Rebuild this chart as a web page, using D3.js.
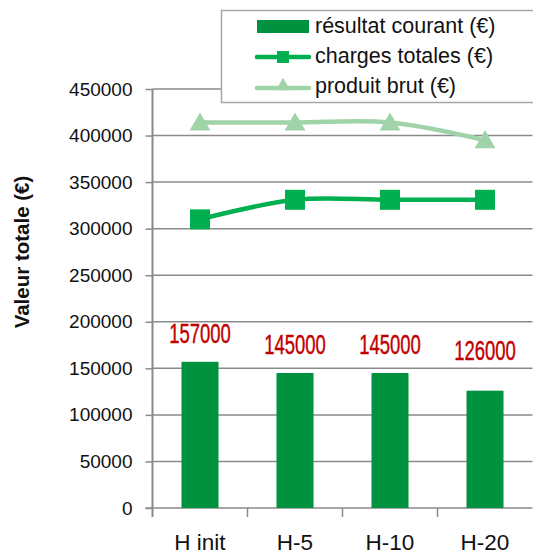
<!DOCTYPE html>
<html><head><meta charset="utf-8">
<script src="https://cdn.jsdelivr.net/npm/d3@7"></script>
<style>body{margin:0;background:#fff}svg{display:block}</style>
</head><body>
<script>
const categories = ["H init", "H-5", "H-10", "H-20"];
const resultat = [157000, 145000, 145000, 126000];
const charges = [310000, 331000, 331000, 331000];
const produit = [414000, 414000, 414000, 395000];
const yTicks = [0, 50000, 100000, 150000, 200000, 250000, 300000, 350000, 400000, 450000];
const seriesNames = ["résultat courant (€)", "charges totales (€)", "produit brut (€)"];

(function () {
const W = 533, H = 555;
const svg = d3.select("body").append("svg").attr("width", W).attr("height", H);
const font = "'Liberation Sans', Arial, sans-serif";
const pL = 152.5, pR = 532.5, pT = 89, pB = 508;

const x = d3.scaleBand().domain(categories).range([pL, pR]);
const y = d3.scaleLinear().domain([0, 450000]).range([pB, pT]);

// gridlines
svg.append("g").selectAll("line").data(yTicks.filter(d => d > 0)).join("line")
  .attr("x1", pL).attr("x2", pR).attr("y1", d => y(d)).attr("y2", d => y(d))
  .attr("stroke", "#8a8a8a").attr("stroke-width", 1.5);

// y axis
const ya = svg.append("g").attr("transform", `translate(${pL},0)`)
  .call(d3.axisLeft(y).tickValues(yTicks).tickFormat(d3.format("d")).tickSize(7).tickPadding(13));
ya.select(".domain").attr("stroke", "#8a8a8a").attr("stroke-width", 2).attr("d", `M0,${pT}V${pB + 9}`);
ya.selectAll(".tick line").attr("stroke", "#8a8a8a").attr("stroke-width", 1.5);
ya.selectAll("text").attr("font-family", font).attr("font-size", 19).attr("fill", "#111");

// x axis
const xa = svg.append("g").attr("transform", `translate(0,${pB})`);
xa.append("line").attr("x1", pL - 7).attr("x2", pR).attr("y1", 0).attr("y2", 0)
  .attr("stroke", "#8a8a8a").attr("stroke-width", 1.5);
xa.selectAll("line.tk").data(categories.slice(1)).join("line").attr("class", "tk")
  .attr("x1", d => x(d)).attr("x2", d => x(d)).attr("y1", 0).attr("y2", 9)
  .attr("stroke", "#8a8a8a").attr("stroke-width", 1.5);
xa.selectAll("text").data(categories).join("text")
  .attr("x", d => x(d) + x.bandwidth() / 2).attr("y", 42)
  .attr("text-anchor", "middle").attr("font-family", font).attr("font-size", 22.5).attr("fill", "#111")
  .text(d => d);

// y title
svg.append("text").attr("transform", `translate(29,252) rotate(-90)`)
  .attr("text-anchor", "middle").attr("font-family", font).attr("font-weight", "bold")
  .attr("font-size", 20.5).attr("fill", "#111").text("Valeur totale (€)");

// bars
const bw = 37;
svg.append("g").selectAll("rect").data(resultat).join("rect")
  .attr("x", (d, i) => x(categories[i]) + x.bandwidth() / 2 - bw / 2)
  .attr("y", d => y(d)).attr("width", bw).attr("height", d => pB - y(d))
  .attr("fill", "#00923f");

// labels
svg.append("g").selectAll("text").data(resultat).join("text")
  .attr("transform", (d, i) => `translate(${x(categories[i]) + x.bandwidth() / 2},${y(d) - (d < 140000 ? 31 : 19)}) scale(0.66,1)`)
  .attr("text-anchor", "middle").attr("font-family", font).attr("font-size", 28)
  .attr("fill", "#c00000").attr("stroke", "#c00000").attr("stroke-width", 0.4).text(d => d);

// lines
const cx = (d, i) => x(categories[i]) + x.bandwidth() / 2;
const line = d3.line().x((d, i) => cx(d, i)).y(d => y(d)).curve(d3.curveCatmullRom.alpha(0.5));
svg.append("path").datum(produit).attr("d", line).attr("fill", "none")
  .attr("stroke", "#a1d3a9").attr("stroke-width", 4.5);
svg.append("path").datum(charges).attr("d", line).attr("fill", "none")
  .attr("stroke", "#00b050").attr("stroke-width", 4.5);

const tri = d3.symbol().type(d3.symbolTriangle).size(190);
svg.append("g").selectAll("path").data(produit).join("path")
  .attr("transform", (d, i) => `translate(${cx(d, i)},${y(d) + 2})`)
  .attr("d", tri).attr("fill", "#a1d3a9");
svg.append("g").selectAll("rect").data(charges).join("rect")
  .attr("x", (d, i) => cx(d, i) - 10).attr("y", d => y(d) - 10)
  .attr("width", 20).attr("height", 20).attr("fill", "#00b050");

// legend
const lg = svg.append("g");
lg.append("rect").attr("x", 221.5).attr("y", 10.5).attr("width", 330).attr("height", 92)
  .attr("fill", "#fff").attr("stroke", "#a6a6a6").attr("stroke-width", 1.5);
const rows = [33, 63, 93];
lg.append("rect").attr("x", 257).attr("y", 20).attr("width", 52).attr("height", 13).attr("fill", "#00923f");
lg.append("line").attr("x1", 257).attr("x2", 309).attr("y1", 57).attr("y2", 57)
  .attr("stroke", "#00b050").attr("stroke-width", 4.5).attr("stroke-linecap", "round");
lg.append("rect").attr("x", 277).attr("y", 51).attr("width", 12).attr("height", 12).attr("fill", "#00b050");
lg.append("line").attr("x1", 257).attr("x2", 309).attr("y1", 88).attr("y2", 88)
  .attr("stroke", "#a1d3a9").attr("stroke-width", 4.5).attr("stroke-linecap", "round");
lg.append("path").attr("transform", "translate(283,86)").attr("d", d3.symbol().type(d3.symbolTriangle).size(90))
  .attr("fill", "#a1d3a9");
lg.selectAll("text.lt").data(seriesNames).join("text").attr("class", "lt")
  .attr("x", 315).attr("y", (d, i) => rows[i]).attr("font-family", font).attr("font-size", 21.5)
  .attr("fill", "#111").text(d => d);
})();
</script>
</body></html>
